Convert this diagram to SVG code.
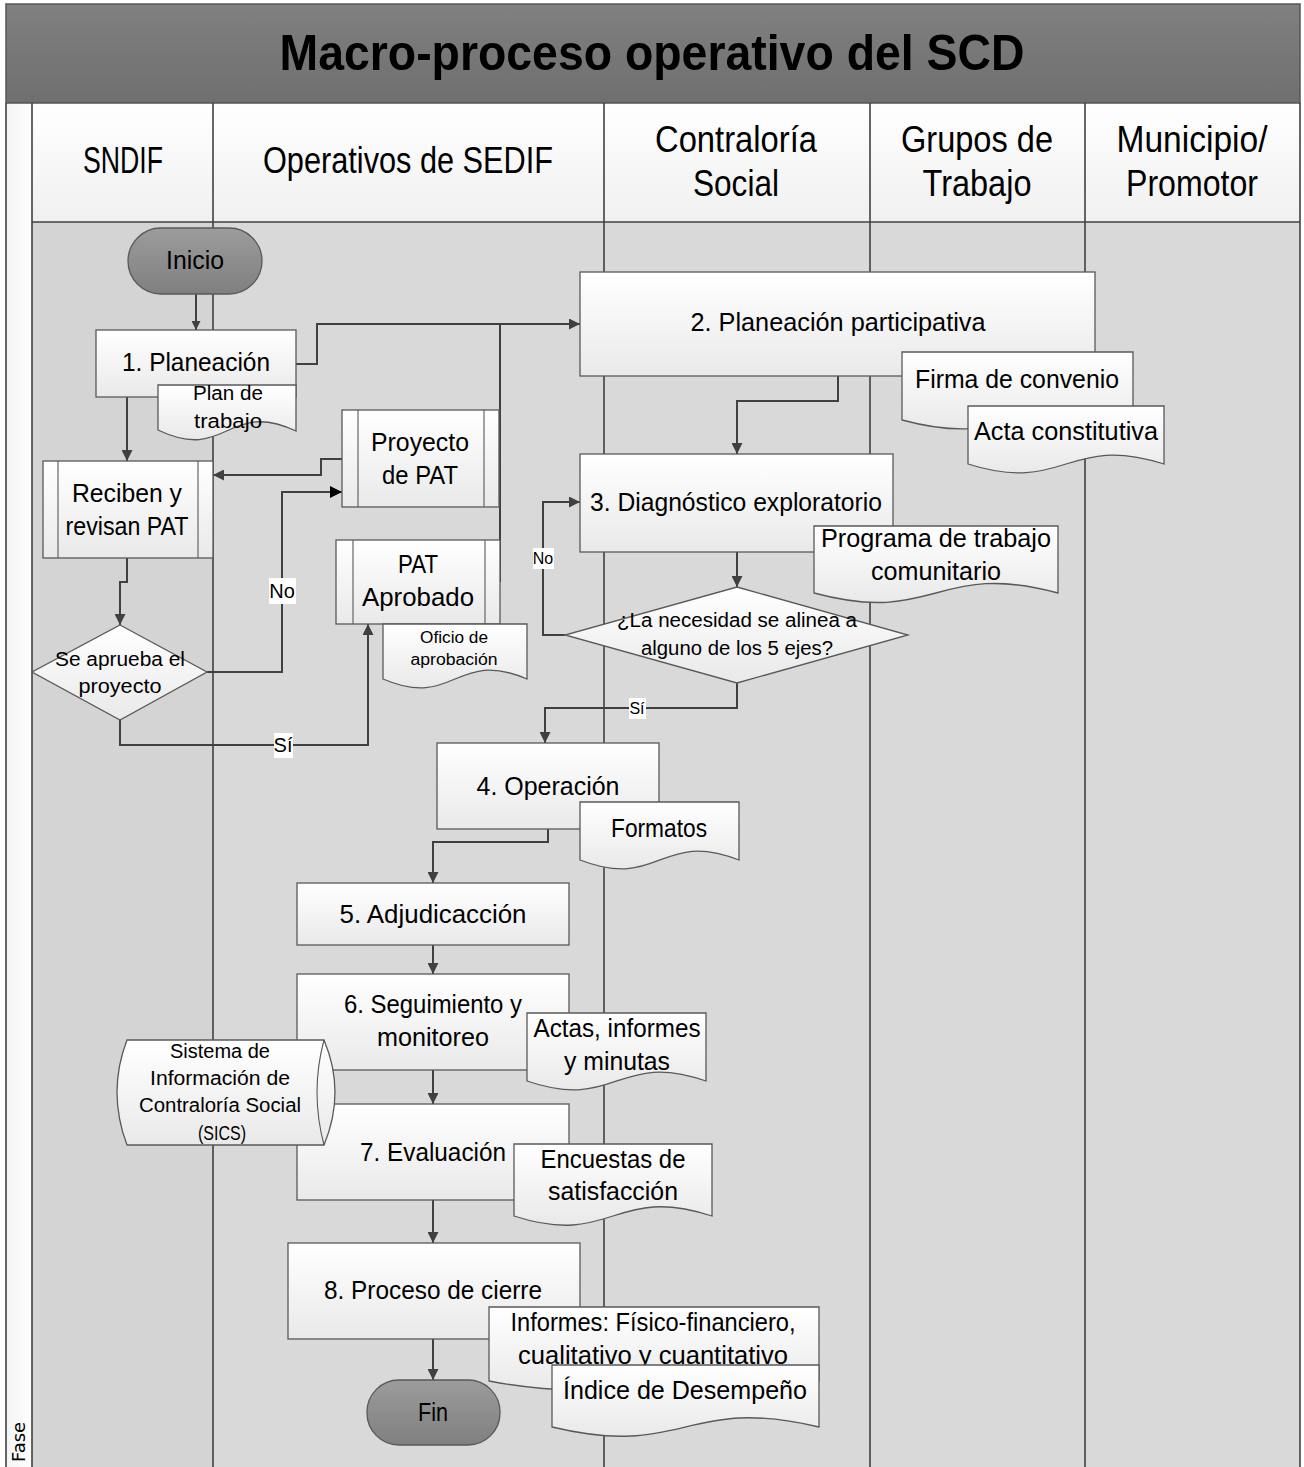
<svg xmlns="http://www.w3.org/2000/svg" width="1304" height="1467" viewBox="0 0 1304 1467">
<defs>
<linearGradient id="gNode" x1="0" y1="0" x2="0" y2="1"><stop offset="0" stop-color="#ffffff"/><stop offset="1" stop-color="#e9e9e9"/></linearGradient>
<linearGradient id="gHead" x1="0" y1="0" x2="0" y2="1"><stop offset="0" stop-color="#ffffff"/><stop offset="1" stop-color="#f0f0f0"/></linearGradient>
<linearGradient id="gTerm" x1="0" y1="0" x2="0" y2="1"><stop offset="0" stop-color="#9c9c9c"/><stop offset="1" stop-color="#7f7f7f"/></linearGradient>
<linearGradient id="gTitle" x1="0" y1="0" x2="0" y2="1"><stop offset="0" stop-color="#808080"/><stop offset="1" stop-color="#6f6f6f"/></linearGradient>
<linearGradient id="gFase" x1="0" y1="0" x2="1" y2="0"><stop offset="0" stop-color="#f4f4f4"/><stop offset="1" stop-color="#ffffff"/></linearGradient>
<marker id="ar" viewBox="0 0 10 10" refX="10" refY="5" markerWidth="13" markerHeight="11" markerUnits="userSpaceOnUse" orient="auto"><path d="M0,0 L10,5 L0,10 z" fill="#404040"/></marker>
<marker id="arB" viewBox="0 0 10 10" refX="10" refY="5" markerWidth="14" markerHeight="12" markerUnits="userSpaceOnUse" orient="auto"><path d="M0,0 L10,5 L0,10 z" fill="#000000"/></marker>
<marker id="arS" viewBox="0 0 10 10" refX="10" refY="5" markerWidth="10" markerHeight="9" markerUnits="userSpaceOnUse" orient="auto"><path d="M0,0 L10,5 L0,10 z" fill="#404040"/></marker>
</defs>
<style>
text{font-family:"Liberation Sans",Arial,sans-serif;fill:#000;text-anchor:middle}
.t26{font-size:26px}
.t20{font-size:20px}
.t16{font-size:16px}
.hd{font-size:36px}
.node{fill:url(#gNode);stroke:#595959;stroke-width:1.3}
.term{fill:url(#gTerm);stroke:#595959;stroke-width:1.3}
.sub{fill:none;stroke:#595959;stroke-width:1.1}
.lane{stroke:#404040;stroke-width:1.6;fill:none}
.conn{fill:none;stroke:#404040;stroke-width:2}
.lbl{fill:#ffffff;stroke:none}
</style>

<g id="pool">
<rect x="6" y="4" width="1294" height="1463" fill="#d9d9d9"/>
<rect x="32" y="222" width="181" height="1245" fill="#d4d4d4"/>
<rect x="6" y="103" width="26" height="1364" fill="url(#gFase)"/>
<rect x="32" y="103" width="1268" height="119" fill="url(#gHead)"/>
<rect x="6" y="4" width="1294" height="99" fill="url(#gTitle)" stroke="#555" stroke-width="1.5"/>
<text x="652" y="70" style="font-size:50px;font-weight:bold" textLength="745" lengthAdjust="spacingAndGlyphs">Macro-proceso operativo del SCD</text>
<line class="lane" x1="6" y1="103" x2="6" y2="1467"/>
<line class="lane" x1="32" y1="103" x2="32" y2="1467" stroke-width="1.2"/>
<line class="lane" x1="32" y1="222" x2="1300" y2="222"/>
<line class="lane" x1="213" y1="103" x2="213" y2="1467"/>
<line class="lane" x1="604" y1="103" x2="604" y2="1467"/>
<line class="lane" x1="870" y1="103" x2="870" y2="1467"/>
<line class="lane" x1="1085" y1="103" x2="1085" y2="1467"/>
<line class="lane" x1="1300" y1="103" x2="1300" y2="1467" stroke-width="2.2"/>
<text class="hd" x="123" y="173" textLength="80" lengthAdjust="spacingAndGlyphs">SNDIF</text>
<text class="hd" x="408" y="173" textLength="290" lengthAdjust="spacingAndGlyphs">Operativos de SEDIF</text>
<text class="hd" x="736" y="152" textLength="162" lengthAdjust="spacingAndGlyphs">Contraloría</text>
<text class="hd" x="736" y="196" textLength="86" lengthAdjust="spacingAndGlyphs">Social</text>
<text class="hd" x="977" y="152" textLength="152" lengthAdjust="spacingAndGlyphs">Grupos de</text>
<text class="hd" x="977" y="196" textLength="109" lengthAdjust="spacingAndGlyphs">Trabajo</text>
<text class="hd" x="1192" y="152" textLength="151" lengthAdjust="spacingAndGlyphs">Municipio/</text>
<text class="hd" x="1192" y="196" textLength="132" lengthAdjust="spacingAndGlyphs">Promotor</text>
<text transform="translate(25,1462) rotate(-90)" style="font-family:'DejaVu Sans',sans-serif;font-size:18px;text-anchor:start">Fase</text>
</g>

<g id="connectors">
<path class="conn" d="M196,294 V330" stroke-width="1.3" marker-end="url(#arS)"/>
<path class="conn" d="M500,582 V324"/>
<path class="conn" d="M296,364 H317 V324 H580" marker-end="url(#ar)"/>
<path class="conn" d="M838,376 V401 H737 V454" marker-end="url(#ar)"/>
<path class="conn" d="M737,552 V587" marker-end="url(#ar)"/>
<path class="conn" d="M565,635 H543 V502 H580" marker-end="url(#ar)"/>
<path class="conn" d="M737,683 V708 H545 V743" marker-end="url(#ar)"/>
<path class="conn" d="M548,829 V842 H433 V883" marker-end="url(#ar)"/>
<path class="conn" d="M433,945 V974" marker-end="url(#ar)"/>
<path class="conn" d="M433,1070 V1104" marker-end="url(#ar)"/>
<path class="conn" d="M433,1200 V1243" marker-end="url(#ar)"/>
<path class="conn" d="M433,1339 V1380" marker-end="url(#ar)"/>
<path class="conn" d="M127,397 V461" marker-end="url(#ar)"/>
<path class="conn" d="M127,558 V582 H120 V625" marker-end="url(#ar)"/>
<path class="conn" d="M207,672 H282 V492 H342" stroke="#000" stroke-width="2.5" marker-end="url(#arB)"/>
<path class="conn" d="M120,720 V745 H368 V624" marker-end="url(#ar)"/>
<path class="conn" d="M342,459 H321 V475 H213" marker-end="url(#ar)"/>
<rect class="lbl" x="269" y="578" width="27" height="26"/>
<text class="t20" x="282" y="598">No</text>
<rect class="lbl" x="274" y="733" width="19" height="25"/>
<text class="t20" x="283" y="752">Sí</text>
<rect class="lbl" x="533" y="548" width="21" height="21"/>
<text class="t16" x="543" y="564">No</text>
<rect class="lbl" x="629" y="698" width="17" height="21"/>
<text class="t16" x="637" y="714">Sí</text>
</g>

<g id="inicio">
<rect class="term" x="128" y="228" width="134" height="66" rx="33"/>
<text class="t26" x="195" y="269" textLength="58" lengthAdjust="spacingAndGlyphs">Inicio</text>
</g>

<g id="planeacion">
<rect class="node" x="96" y="330" width="200" height="67"/>
<text class="t26" x="196" y="371" textLength="148" lengthAdjust="spacingAndGlyphs">1. Planeación</text>
</g>

<g id="plan-trabajo">
<path class="node" d="M158,385 H296 V431 C227,399 227,463 158,430 Z"/>
<text class="t20" x="228" y="400" textLength="70" lengthAdjust="spacingAndGlyphs">Plan de</text>
<text class="t20" x="228" y="428" textLength="68" lengthAdjust="spacingAndGlyphs">trabajo</text>
</g>

<g id="planeacion-participativa">
<rect class="node" x="580" y="272" width="515" height="104"/>
<text class="t26" x="838" y="331" textLength="295" lengthAdjust="spacingAndGlyphs">2. Planeación participativa</text>
</g>

<g id="firma-convenio">
<path class="node" d="M902,352 H1133 V420 C1017,389 1017,451 902,420 Z"/>
<text class="t26" x="1017" y="388" textLength="204" lengthAdjust="spacingAndGlyphs">Firma de convenio</text>
</g>

<g id="acta-constitutiva">
<path class="node" d="M968,406 H1164 V464 C1066,433 1066,495 968,464 Z"/>
<text class="t26" x="1066" y="440" textLength="184" lengthAdjust="spacingAndGlyphs">Acta constitutiva</text>
</g>

<g id="diagnostico">
<rect class="node" x="580" y="454" width="313" height="98"/>
<text class="t26" x="736" y="511" textLength="292" lengthAdjust="spacingAndGlyphs">3. Diagnóstico exploratorio</text>
</g>

<g id="programa-trabajo">
<path class="node" d="M814,526 H1058 V593 C936,560 936,626 814,593 Z"/>
<text class="t26" x="936" y="547" textLength="230" lengthAdjust="spacingAndGlyphs">Programa de trabajo</text>
<text class="t26" x="936" y="580" textLength="130" lengthAdjust="spacingAndGlyphs">comunitario</text>
</g>

<g id="decision-ejes">
<path class="node" d="M737,587 L908,635 L737,683 L565,635 Z"/>
<text class="t20" x="737" y="627" textLength="240" lengthAdjust="spacingAndGlyphs">¿La necesidad se alinea a</text>
<text class="t20" x="737" y="655" textLength="192" lengthAdjust="spacingAndGlyphs">alguno de los 5 ejes?</text>
</g>

<g id="proyecto-pat">
<rect class="node" x="342" y="410" width="157" height="97"/>
<path class="sub" d="M358,410 V507 M484,410 V507"/>
<text class="t26" x="420" y="451" textLength="98" lengthAdjust="spacingAndGlyphs">Proyecto</text>
<text class="t26" x="420" y="484" textLength="76" lengthAdjust="spacingAndGlyphs">de PAT</text>
</g>

<g id="reciben-revisan">
<rect class="node" x="43" y="461" width="170" height="97"/>
<path class="sub" d="M58,461 V558 M198,461 V558"/>
<text class="t26" x="127" y="502" textLength="110" lengthAdjust="spacingAndGlyphs">Reciben y</text>
<text class="t26" x="127" y="535" textLength="123" lengthAdjust="spacingAndGlyphs">revisan PAT</text>
</g>

<g id="pat-aprobado">
<rect class="node" x="336" y="540" width="164" height="84"/>
<path class="sub" d="M353,540 V624 M485,540 V624"/>
<text class="t26" x="418" y="573" textLength="40" lengthAdjust="spacingAndGlyphs">PAT</text>
<text class="t26" x="418" y="606" textLength="112" lengthAdjust="spacingAndGlyphs">Aprobado</text>
</g>

<g id="oficio-aprobacion">
<path class="node" d="M383,624 H527 V679 C455,648 455,710 383,679 Z"/>
<text class="t16" x="454" y="643" textLength="68" lengthAdjust="spacingAndGlyphs">Oficio de</text>
<text class="t16" x="454" y="665" textLength="87" lengthAdjust="spacingAndGlyphs">aprobación</text>
</g>

<g id="decision-aprueba">
<path class="node" d="M120,625 L207,672 L120,720 L32,672 Z"/>
<text class="t20" x="120" y="666" textLength="130" lengthAdjust="spacingAndGlyphs">Se aprueba el</text>
<text class="t20" x="120" y="693" textLength="83" lengthAdjust="spacingAndGlyphs">proyecto</text>
</g>

<g id="operacion">
<rect class="node" x="437" y="743" width="222" height="86"/>
<text class="t26" x="548" y="795" textLength="143" lengthAdjust="spacingAndGlyphs">4. Operación</text>
</g>

<g id="formatos">
<path class="node" d="M580,802 H739 V860 C660,829 660,891 580,860 Z"/>
<text class="t26" x="659" y="837" textLength="96" lengthAdjust="spacingAndGlyphs">Formatos</text>
</g>

<g id="adjudicacion">
<rect class="node" x="297" y="883" width="272" height="62"/>
<text class="t26" x="433" y="923" textLength="187" lengthAdjust="spacingAndGlyphs">5. Adjudicacción</text>
</g>

<g id="seguimiento">
<rect class="node" x="297" y="974" width="272" height="96"/>
<text class="t26" x="433" y="1013" textLength="178" lengthAdjust="spacingAndGlyphs">6. Seguimiento y</text>
<text class="t26" x="433" y="1046" textLength="112" lengthAdjust="spacingAndGlyphs">monitoreo</text>
</g>

<g id="actas-informes">
<path class="node" d="M527,1013 H706 V1081 C617,1050 617,1112 527,1081 Z"/>
<text class="t26" x="617" y="1037" textLength="167" lengthAdjust="spacingAndGlyphs">Actas, informes</text>
<text class="t26" x="617" y="1070" textLength="106" lengthAdjust="spacingAndGlyphs">y minutas</text>
</g>

<g id="evaluacion">
<rect class="node" x="297" y="1104" width="272" height="96"/>
<text class="t26" x="433" y="1161" textLength="146" lengthAdjust="spacingAndGlyphs">7. Evaluación</text>
</g>

<g id="sics">
<path class="node" d="M127,1040 H324 Q346,1092 324,1145 H127 Q107,1092 127,1040 Z"/>
<path class="sub" d="M324,1040 Q310,1092 324,1145"/>
<text class="t20" x="220" y="1058" textLength="100" lengthAdjust="spacingAndGlyphs">Sistema de</text>
<text class="t20" x="220" y="1085" textLength="140" lengthAdjust="spacingAndGlyphs">Información de</text>
<text class="t20" x="220" y="1112" textLength="162" lengthAdjust="spacingAndGlyphs">Contraloría Social</text>
<text class="t20" x="222" y="1140" textLength="48" lengthAdjust="spacingAndGlyphs">(SICS)</text>
</g>

<g id="encuestas">
<path class="node" d="M514,1144 H712 V1216 C613,1184 613,1248 514,1216 Z"/>
<text class="t26" x="613" y="1168" textLength="145" lengthAdjust="spacingAndGlyphs">Encuestas de</text>
<text class="t26" x="613" y="1200" textLength="130" lengthAdjust="spacingAndGlyphs">satisfacción</text>
</g>

<g id="cierre">
<rect class="node" x="288" y="1243" width="292" height="96"/>
<text class="t26" x="433" y="1299" textLength="218" lengthAdjust="spacingAndGlyphs">8. Proceso de cierre</text>
</g>

<g id="informes">
<path class="node" d="M489,1307 H819 V1381 C654,1350 654,1412 489,1381 Z"/>
<text class="t26" x="653" y="1331" textLength="285" lengthAdjust="spacingAndGlyphs">Informes: Físico-financiero,</text>
<text class="t26" x="653" y="1364" textLength="270" lengthAdjust="spacingAndGlyphs">cualitativo y cuantitativo</text>
</g>

<g id="indice">
<path class="node" d="M552,1365 H819 V1427 C685,1395 685,1459 552,1427 Z"/>
<text class="t26" x="685" y="1399" textLength="244" lengthAdjust="spacingAndGlyphs">Índice de Desempeño</text>
</g>

<g id="fin">
<rect class="term" x="367" y="1380" width="133" height="65" rx="32"/>
<text class="t26" x="433" y="1421" textLength="30" lengthAdjust="spacingAndGlyphs">Fin</text>
</g>
</svg>
